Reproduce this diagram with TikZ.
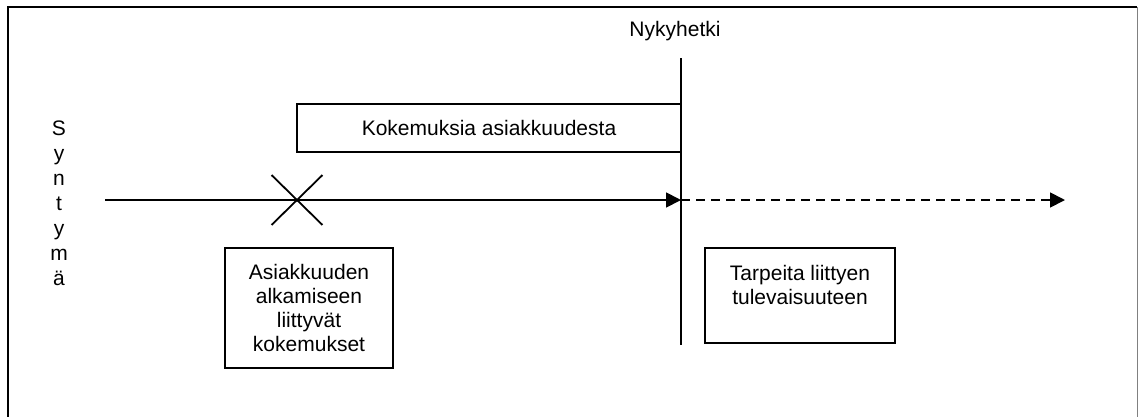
\documentclass[tikz,border=0pt]{standalone}
\usepackage{fontspec}
\setmainfont{Liberation Sans}
\usetikzlibrary{arrows.meta,shapes.misc}
\begin{document}
\begin{tikzpicture}[x=1pt,y=-1pt,
  line width=1.8pt,
  txt/.style={font=\fontsize{21}{24}\selectfont, inner sep=0pt, align=center},
  boxnode/.style={draw, line width=1.8pt, inner sep=0pt, align=center, font=\fontsize{21}{24}\selectfont},
  tip/.style={-{Triangle[length=15pt,width=15pt]}},
  ]
\useasboundingbox (0,0) rectangle (1138,416);
% frame
\draw[line width=2.4pt] (8,430) -- (8,7) -- (1137,7);
\draw[line width=1pt, gray] (1137,7) -- (1137,430);
% now line
\coordinate (nowtop) at (681,58);
\coordinate (nowbot) at (681,345);
\coordinate (now) at (681,200);
\draw (nowtop) -- (nowbot);
\node[txt] (nyky) at (675,31) {Nykyhetki};
% timeline
\coordinate (start) at (105,200);
\coordinate (future) at (1065,200);
\draw[tip] (start) -- (now);
\draw[tip, dash pattern=on 9pt off 6pt] (now) -- (future);
% cross
\node[cross out, draw, minimum width=49pt, minimum height=48pt, inner sep=0pt, line width=1.8pt] (cross) at (297,200) {};
% boxes
\node[boxnode, minimum width=384pt, minimum height=48pt] (koke) at (489,128) {Kokemuksia asiakkuudesta};
\node[boxnode, minimum width=168pt, minimum height=120pt] (alku) at (309,308)
  {Asiakkuuden\\alkamiseen\\liittyvät\\kokemukset};
\node[draw, line width=1.8pt, minimum width=190pt, minimum height=95pt, inner sep=0pt] (tarve) at (800,295.5) {};
\node[txt, anchor=north] (tarvetxt) at (800,264) {Tarpeita liittyen\\tulevaisuuteen};
% Syntymä
\node[txt, font=\fontsize{21}{25}\selectfont] (synt) at (59,203) {S\\y\\n\\t\\y\\m\\ä};
\end{tikzpicture}
\end{document}
